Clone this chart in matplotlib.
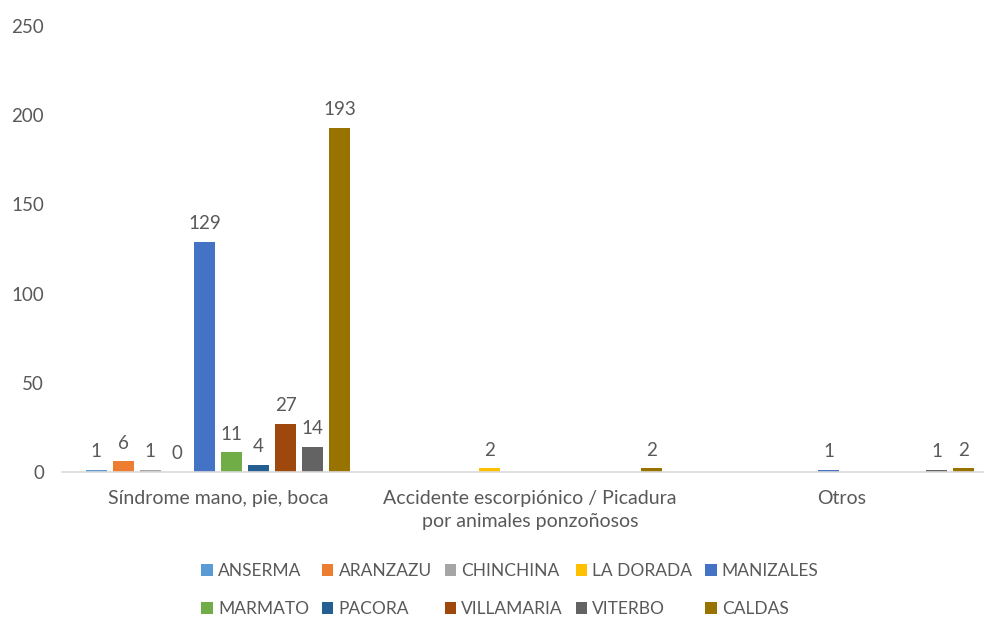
import numpy as np
import matplotlib.pyplot as plt

plt.rcParams['font.family'] = ['Lato', 'DejaVu Sans']

categories = ['Síndrome mano, pie, boca',
              'Accidente escorpiónico / Picadura\npor animales ponzoñosos',
              'Otros']
series = ['ANSERMA', 'ARANZAZU', 'CHINCHINA', 'LA DORADA', 'MANIZALES',
          'MARMATO', 'PACORA', 'VILLAMARIA', 'VITERBO', 'CALDAS']
nan = np.nan
values = [
    [1, nan, nan],      # ANSERMA
    [6, nan, nan],      # ARANZAZU
    [1, nan, nan],      # CHINCHINA
    [0, 2, nan],        # LA DORADA
    [129, nan, 1],      # MANIZALES
    [11, nan, nan],     # MARMATO
    [4, nan, nan],      # PACORA
    [27, nan, nan],     # VILLAMARIA
    [14, nan, 1],       # VITERBO
    [193, 2, 2],        # CALDAS
]
colors = ['#5B9BD5', '#ED7D31', '#A5A5A5', '#FFC000', '#4472C4',
          '#70AD47', '#255E91', '#9E480E', '#636363', '#997300']

txt = '#595959'
fig = plt.figure(figsize=(9.84, 6.17), dpi=100)
ax = fig.add_axes([62/984, 1-472/617, 936/984, 446/617])

x = np.arange(len(categories))
slot = 0.0868
width = 0.0673
handles = []
for i, (name, vals, c) in enumerate(zip(series, values, colors)):
    v = np.array(vals, dtype=float)
    bars = ax.bar(x + (i - 4.5) * slot, np.nan_to_num(v), width, color=c, label=name)
    labels = ['' if np.isnan(val) else f'{val:.0f}' for val in v]
    ax.bar_label(bars, labels=labels, padding=7, fontsize=13.5, color=txt)
    handles.append(bars)

ax.set_xlim(-0.5, 2.5)
ax.set_ylim(0, 250)
ax.set_yticks(np.arange(0, 251, 50))
ax.set_xticks(x)
ax.set_xticklabels(categories, fontsize=14, color=txt, linespacing=1.45)
ax.tick_params(axis='y', length=0, pad=13, labelsize=13.5, labelcolor=txt)
ax.tick_params(axis='x', length=0, pad=13)
for s in ['top', 'right', 'left']:
    ax.spines[s].set_visible(False)
ax.spines['bottom'].set_color('#D9D9D9')
ax.spines['bottom'].set_linewidth(1.2)

# legend filled column-wise, so reorder to read row by row
order = [0, 5, 1, 6, 2, 7, 3, 8, 4, 9]
fig.legend([handles[k] for k in order], [series[k] for k in order],
           ncol=5, loc='center', bbox_to_anchor=(510/984, 1-590/617),
           frameon=False, fontsize=12.5, labelcolor=txt,
           handlelength=0.65, handleheight=0.65, handletextpad=0.3,
           columnspacing=0.75, labelspacing=1.25)

fig.savefig('out.png', dpi=100)
